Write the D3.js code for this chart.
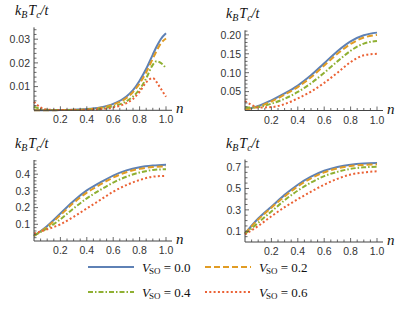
<!DOCTYPE html>
<html>
<head>
<script src="https://d3js.org/d3.v7.min.js"></script>
<style>
  body { margin: 0; background: #fff; }
  .tick-label { font-family: "Liberation Sans", Arial, sans-serif; font-size: 10.5px; fill: #333; }
  .math { font-family: "Liberation Serif", "Times New Roman", serif; font-style: italic; fill: #111; }
</style>
</head>
<body>
<svg id="chart" width="411" height="331"></svg>
<script>
// series labels and colours
var vso = ["0.0", "0.2", "0.4", "0.6"];
var colors = ["#5E81B5", "#E19C24", "#8FB032", "#EB6235"];
var dashes = [null, "6,3", "5,2,1.5,2", "2,2.3"];

// panel A (top left)
var nA = [0, 0.05, 0.1, 0.2, 0.3, 0.4, 0.5, 0.6, 0.7, 0.75, 0.8, 0.85, 0.9, 0.93, 0.96, 1.0];
var tcA_00 = [0, 0, 0, 0.0001, 0.0002, 0.0005, 0.0012, 0.0027, 0.0058, 0.0085, 0.0125, 0.0175, 0.0235, 0.027, 0.030, 0.0325];
var tcA_02 = [0, 0, 0, 0.0001, 0.0002, 0.0004, 0.001, 0.0024, 0.0052, 0.0077, 0.0113, 0.016, 0.0218, 0.0252, 0.0282, 0.0303];
var tcA_04 = [0.0015, 0.0006, 0.0002, 0.0001, 0.0001, 0.0003, 0.0007, 0.0017, 0.0038, 0.0058, 0.0088, 0.0135, 0.0192, 0.0207, 0.0200, 0.0178];
var tcA_06 = [0.0036, 0.0012, 0.0003, 0.0001, 0.0001, 0.0002, 0.0005, 0.0012, 0.003, 0.0048, 0.0078, 0.0118, 0.0136, 0.0118, 0.0092, 0.0057];

// panel B (top right)
var nB = [0, 0.05, 0.1, 0.2, 0.3, 0.4, 0.5, 0.6, 0.7, 0.8, 0.9, 1.0];
var tcB_00 = [0.003, 0.007, 0.012, 0.027, 0.045, 0.066, 0.093, 0.125, 0.157, 0.183, 0.199, 0.206];
var tcB_02 = [0.002, 0.006, 0.010, 0.024, 0.042, 0.062, 0.088, 0.119, 0.150, 0.176, 0.193, 0.200];
var tcB_04 = [0.008, 0.008, 0.009, 0.018, 0.031, 0.049, 0.072, 0.100, 0.130, 0.158, 0.177, 0.184];
var tcB_06 = [0.025, 0.015, 0.008, 0.009, 0.017, 0.032, 0.050, 0.073, 0.100, 0.128, 0.146, 0.150];

// panel C (bottom left)
var nC = [0, 0.1, 0.2, 0.3, 0.4, 0.5, 0.6, 0.7, 0.8, 0.9, 1.0];
var tcC_00 = [0.03, 0.09, 0.165, 0.24, 0.303, 0.350, 0.392, 0.423, 0.442, 0.452, 0.457];
var tcC_02 = [0.03, 0.085, 0.155, 0.228, 0.29, 0.337, 0.38, 0.412, 0.432, 0.443, 0.447];
var tcC_04 = [0.035, 0.075, 0.13, 0.195, 0.255, 0.305, 0.35, 0.385, 0.41, 0.425, 0.43];
var tcC_06 = [0.045, 0.07, 0.10, 0.145, 0.195, 0.245, 0.295, 0.335, 0.365, 0.385, 0.39];

// panel D (bottom right)
var nD = [0, 0.1, 0.2, 0.3, 0.4, 0.5, 0.6, 0.7, 0.8, 0.9, 1.0];
var tcD_00 = [0.08, 0.22, 0.33, 0.44, 0.535, 0.61, 0.665, 0.70, 0.722, 0.733, 0.737];
var tcD_02 = [0.08, 0.21, 0.32, 0.425, 0.52, 0.595, 0.65, 0.688, 0.71, 0.72, 0.725];
var tcD_04 = [0.075, 0.18, 0.285, 0.39, 0.48, 0.555, 0.615, 0.655, 0.683, 0.697, 0.702];
var tcD_06 = [0.07, 0.15, 0.24, 0.325, 0.40, 0.47, 0.535, 0.59, 0.63, 0.65, 0.66];

// ticks
var xMajor = [0.2, 0.4, 0.6, 0.8, 1.0];
var yMajorA = [0.01, 0.02, 0.03];
var yMajorB = [0.05, 0.10, 0.15, 0.20];
var yMajorC = [0.1, 0.2, 0.3, 0.4];
var yMajorD = [0.1, 0.3, 0.5, 0.7];

var panels = [
  {n: nA, series: [tcA_00, tcA_02, tcA_04, tcA_06], left: 34, bottom: 110.3, ymax: 0.035, pxu: 2370, yMajor: yMajorA, yMinor: 0.002, fmt: ".2f"},
  {n: nB, series: [tcB_00, tcB_02, tcB_04, tcB_06], left: 245, bottom: 110.5, ymax: 0.212, pxu: 378, yMajor: yMajorB, yMinor: 0.01, fmt: ".2f"},
  {n: nC, series: [tcC_00, tcC_02, tcC_04, tcC_06], left: 34, bottom: 241, ymax: 0.485, pxu: 167, yMajor: yMajorC, yMinor: 0.02, fmt: ".1f"},
  {n: nD, series: [tcD_00, tcD_02, tcD_04, tcD_06], left: 245, bottom: 242, ymax: 0.77, pxu: 107.1, yMajor: yMajorD, yMinor: 0.05, fmt: ".1f"}
];

var svg = d3.select("#chart");
var axisColor = "#444";

function range(step, max) {
  var out = [];
  for (var i = 1; i * step <= max + 1e-9; i++) out.push(+(i * step).toFixed(6));
  return out;
}

panels.forEach(function(p) {
  var x = d3.scaleLinear().domain([0, 1]).range([p.left, p.left + 132]);
  var y = d3.scaleLinear().domain([0, p.ymax]).range([p.bottom, p.bottom - p.ymax * p.pxu]);
  var g = svg.append("g");

  // curves
  p.series.forEach(function(vals, i) {
    var pts = p.n.map(function(v, j) { return [v, vals[j]]; });
    var line = d3.line().x(d => x(d[0])).y(d => y(d[1])).curve(d3.curveMonotoneX);
    g.append("path")
      .attr("d", line(pts))
      .attr("fill", "none")
      .attr("stroke", colors[i])
      .attr("stroke-width", 2)
      .attr("stroke-dasharray", dashes[i]);
  });

  // x axis
  g.append("line").attr("x1", x(0)).attr("x2", x(1) + 6)
    .attr("y1", p.bottom).attr("y2", p.bottom)
    .attr("stroke", axisColor).attr("stroke-width", 1);
  range(0.05, 1.0).forEach(function(t) {
    var major = xMajor.some(m => Math.abs(m - t) < 1e-6);
    g.append("line").attr("x1", x(t)).attr("x2", x(t))
      .attr("y1", p.bottom).attr("y2", p.bottom - (major ? 4 : 2.5))
      .attr("stroke", axisColor).attr("stroke-width", 0.8);
  });
  xMajor.forEach(function(t) {
    g.append("text").attr("class", "tick-label")
      .attr("x", x(t)).attr("y", p.bottom + 13)
      .attr("text-anchor", "middle").text(d3.format(".1f")(t));
  });
  g.append("text").attr("class", "math")
    .attr("x", x(1) + 10).attr("y", p.bottom + 3)
    .attr("font-size", 15).text("n");

  // y axis
  g.append("line").attr("x1", p.left).attr("x2", p.left)
    .attr("y1", p.bottom).attr("y2", y(p.ymax))
    .attr("stroke", axisColor).attr("stroke-width", 1);
  range(p.yMinor, p.ymax).forEach(function(t) {
    var major = p.yMajor.some(m => Math.abs(m - t) < 1e-6);
    g.append("line").attr("x1", p.left).attr("x2", p.left + (major ? 4 : 2.5))
      .attr("y1", y(t)).attr("y2", y(t))
      .attr("stroke", axisColor).attr("stroke-width", 0.8);
  });
  p.yMajor.forEach(function(t) {
    g.append("text").attr("class", "tick-label")
      .attr("x", p.left - 4).attr("y", y(t) + 3.8)
      .attr("text-anchor", "end").text(d3.format(p.fmt)(t));
  });

  // title k_B T_c / t
  var title = g.append("text").attr("class", "math")
    .attr("x", p.left - 19).attr("y", y(p.ymax) - 12).attr("font-size", 14);
  title.append("tspan").text("k");
  title.append("tspan").attr("font-size", 10).attr("dy", 3).text("B");
  title.append("tspan").attr("dy", -3).attr("dx", 1).text("T");
  title.append("tspan").attr("font-size", 10).attr("dy", 3).text("c");
  title.append("tspan").attr("dy", -3).text("/t");
});

// legend
var legendPos = [[88, 267], [205, 267], [88, 292], [205, 292]];
vso.forEach(function(v, i) {
  var lx = legendPos[i][0], ly = legendPos[i][1];
  svg.append("line").attr("x1", lx).attr("x2", lx + 46)
    .attr("y1", ly).attr("y2", ly)
    .attr("stroke", colors[i]).attr("stroke-width", 2)
    .attr("stroke-dasharray", dashes[i]);
  var t = svg.append("text").attr("class", "math")
    .attr("x", lx + 54).attr("y", ly + 4.5).attr("font-size", 13);
  t.append("tspan").text("V");
  t.append("tspan").attr("font-style", "normal").attr("font-size", 9).attr("dy", 2.5).attr("dx", -1).text("SO");
  t.append("tspan").attr("font-style", "normal").attr("dy", -2.5).text(" = " + v);
});
</script>
</body>
</html>
